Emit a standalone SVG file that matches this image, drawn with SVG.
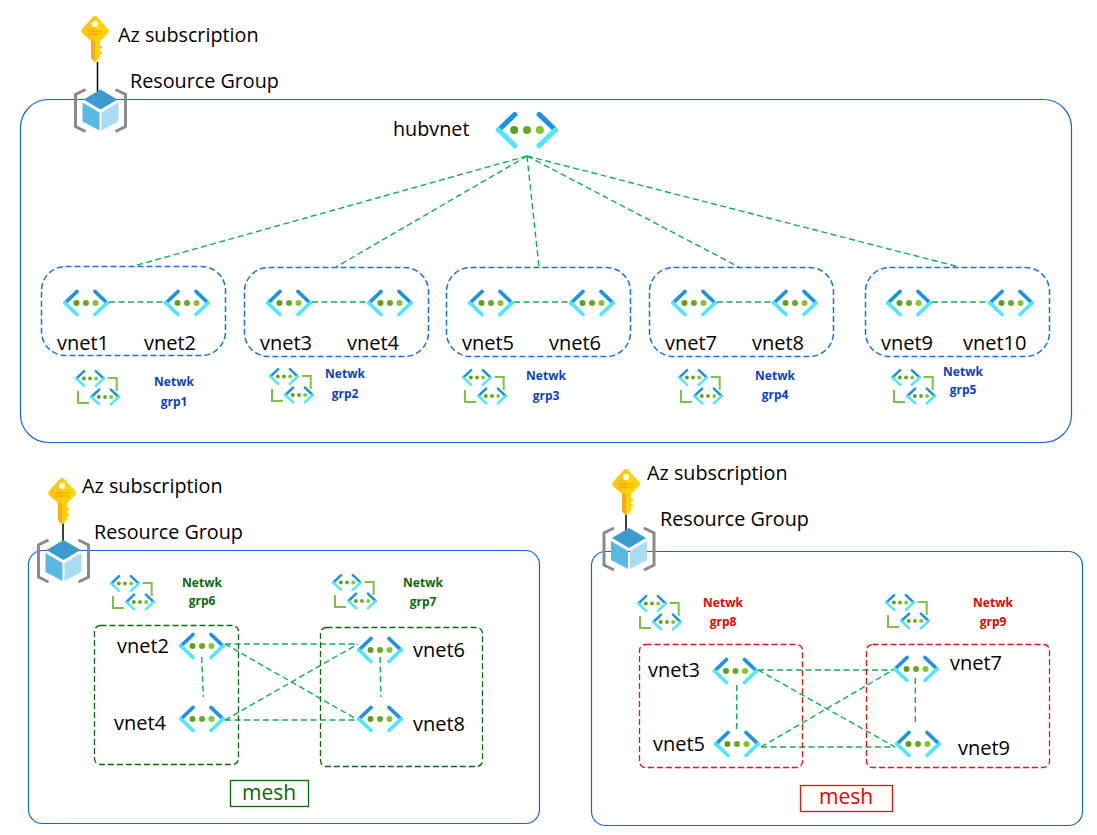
<svg xmlns="http://www.w3.org/2000/svg" width="1097" height="835" viewBox="0 0 1097 835">
<style>
text{font-family:"Open Sans","Noto Sans","Liberation Sans",sans-serif;fill:#000}
.l{font-size:19.750px}
.s{font-size:20px}
.n{font-size:12px;font-weight:700;text-anchor:middle}
.blue{fill:#0b3fc4}.green{fill:#0a6a0a}.red{fill:#f00000}
.box{fill:none;stroke:#1565d8;stroke-width:1.200}
.dblue{fill:none;stroke:#1a6ee0;stroke-width:1.500;stroke-dasharray:6 3}
.dgreen{fill:none;stroke:#0a6a0a;stroke-width:1.300;stroke-dasharray:6 3}
.dred{fill:none;stroke:#f01010;stroke-width:1.300;stroke-dasharray:6 3}
.c line{stroke:#10b050;stroke-width:1.400;stroke-dasharray:6 3.500}
.c .k{stroke:#000;stroke-width:1.500;stroke-dasharray:none}
.mesh{font-size:21px;text-anchor:middle}
</style>
<defs>
<g id="vnet">
<path d="M-9-11.500L-21 0M9-11.500L21 0" stroke="#1b93e3" stroke-width="3.800" stroke-linecap="round" fill="none"/>
<path d="M-21 0L-9 11.500M21 0L9 11.500" stroke="#50e6ff" stroke-width="3.800" stroke-linecap="round" fill="none"/>
<circle cx="-9.500" cy="0" r="3" fill="#5e9e1f"/><circle cx="0" cy="0" r="3" fill="#6aa824"/><circle cx="9.500" cy="0" r="3" fill="#86c52e"/>
</g>
<g id="vgroup">
<path d="M10.700-12H19.700V1M-19 1V13H-8" fill="none" stroke="#7cc243" stroke-width="2"/>
<g transform="translate(-7,-11.500) scale(.65)"><use href="#vnet"/></g>
<g transform="translate(8,7) scale(.65)"><use href="#vnet"/></g>
</g>
<g id="key">
<path d="M0-19Q2-19 3-17L13-6Q14.500-4 13-2L5 6V22L2 26Q0 28-2 26L-4 22V6L-13-2Q-14.500-4-13-6L-3-17Q-2-19 0-19Z" fill="#fec514"/>
<path d="M0-19Q2-19 3-17L13-6Q14.500-4 13-2L5 6V10L7 11V13L5 14V16L7 17V19L5 20V22L2 26L0 27Z" fill="#ffd400"/>
<circle cx="0" cy="-11" r="3" fill="#fff"/>
<path d="M-7-4H7M-7-1H7" stroke="#f59a0c" stroke-width="1"/>
<path d="M-4 6V23L0 27V6Z" fill="#f9a825"/>
</g>
<g id="rg">
<path d="M-15-21L-25-16V16L-15 21M15-21L25-16V16L15 21" fill="none" stroke="#8a8a8a" stroke-width="3"/>
<path d="M0-21L-17-11L0-1L17-11Z" fill="#3a9bcc"/>
<path d="M-18-8L-1 2V20L-18 11Z" fill="#59b9e2"/>
<path d="M1 2L18-8V11L1 20Z" fill="#a9dcf2"/>
</g>
</defs>

<g id="connectors" class="c">
<line x1="527" y1="156" x2="134" y2="266"/>
<line x1="527" y1="156" x2="336" y2="267"/>
<line x1="527" y1="156" x2="539" y2="267"/>
<line x1="527" y1="156" x2="739" y2="267"/>
<line x1="527" y1="156" x2="959" y2="267"/>
<line x1="109" y1="302" x2="165" y2="302"/>
<line x1="312" y1="302" x2="368" y2="302"/>
<line x1="514" y1="302" x2="570" y2="302"/>
<line x1="717" y1="302" x2="773" y2="302"/>
<line x1="932" y1="302" x2="989" y2="302"/>
<line x1="201.700" y1="657" x2="203.300" y2="697"/>
<line x1="380" y1="657" x2="381" y2="697"/>
<line x1="225" y1="644" x2="358" y2="644"/>
<line x1="225" y1="720" x2="358" y2="720"/>
<line x1="225" y1="644" x2="358" y2="720"/>
<line x1="225" y1="720" x2="358" y2="644"/>
<line x1="736.700" y1="685" x2="736.700" y2="732"/>
<line x1="915.300" y1="678" x2="915.300" y2="725"/>
<line x1="758" y1="670" x2="893" y2="670"/>
<line x1="761" y1="747" x2="895" y2="747"/>
<line x1="758" y1="670" x2="895" y2="747"/>
<line x1="761" y1="747" x2="893" y2="670"/>
<line class="k" x1="97.500" y1="62" x2="97.500" y2="92"/>
<line class="k" x1="63" y1="520" x2="63" y2="543"/>
<line class="k" x1="626" y1="512" x2="626" y2="531"/>
</g>

<g id="rg-top">
<rect class="box" x="20.500" y="99.500" width="1051" height="343" rx="28"/>
<use href="#rg" x="100.500" y="110.500"/>
<use href="#key" x="95" y="35"/>
<text class="l" x="118" y="42">Az subscription</text>
<text class="l" x="130" y="88">Resource Group</text>
</g>
<g id="rg-left">
<rect class="box" x="28.500" y="550.500" width="511" height="273" rx="14"/>
<use href="#rg" x="63.500" y="561"/>
<use href="#key" x="62" y="497"/>
<text class="l" x="82" y="493">Az subscription</text>
<text class="l" x="94" y="539">Resource Group</text>
</g>
<g id="rg-right">
<rect class="box" x="591.500" y="551.500" width="491" height="274" rx="14"/>
<use href="#rg" x="629" y="549"/>
<use href="#key" x="626" y="488"/>
<text class="l" x="647" y="480">Az subscription</text>
<text class="l" x="660" y="526">Resource Group</text>
</g>

<g id="hubvnet">
<text class="l" x="393" y="136">hubvnet</text>
<use href="#vnet" transform="translate(527,130) scale(1.350)"/>
</g>

<g id="grp1"><rect class="dblue" x="41.500" y="266.500" width="184" height="89" rx="24"/><use href="#vnet" x="86" y="303"/><use href="#vnet" x="187" y="303"/><text class="s" x="57" y="350">vnet1</text><text class="s" x="144" y="350">vnet2</text><use href="#vgroup" x="97" y="390"/><text class="n blue" x="174" y="386">Netwk</text><text class="n blue" x="174" y="406">grp1</text></g>
<g id="grp2"><rect class="dblue" x="244.500" y="267.500" width="184" height="89" rx="24"/><use href="#vnet" x="289" y="303"/><use href="#vnet" x="390" y="303"/><text class="s" x="260" y="350">vnet3</text><text class="s" x="347" y="350">vnet4</text><use href="#vgroup" x="291" y="388"/><text class="n blue" x="345" y="378">Netwk</text><text class="n blue" x="345" y="398">grp2</text></g>
<g id="grp3"><rect class="dblue" x="446.500" y="267.500" width="184" height="89" rx="24"/><use href="#vnet" x="491" y="303"/><use href="#vnet" x="592" y="303"/><text class="s" x="462" y="350">vnet5</text><text class="s" x="549" y="350">vnet6</text><use href="#vgroup" x="484" y="389"/><text class="n blue" x="546" y="380">Netwk</text><text class="n blue" x="546" y="400">grp3</text></g>
<g id="grp4"><rect class="dblue" x="649.500" y="267.500" width="184" height="89" rx="24"/><use href="#vnet" x="694" y="303"/><use href="#vnet" x="795" y="303"/><text class="s" x="665" y="350">vnet7</text><text class="s" x="752" y="350">vnet8</text><use href="#vgroup" x="700" y="389"/><text class="n blue" x="775" y="380">Netwk</text><text class="n blue" x="775" y="399">grp4</text></g>
<g id="grp5"><rect class="dblue" x="865.500" y="267.500" width="184" height="89" rx="24"/><use href="#vnet" x="909" y="303"/><use href="#vnet" x="1011" y="303"/><text class="s" x="881" y="350">vnet9</text><text class="s" x="963" y="350">vnet10</text><use href="#vgroup" x="913" y="389"/><text class="n blue" x="963" y="376">Netwk</text><text class="n blue" x="963" y="394">grp5</text></g>

<g id="grp6"><rect class="dgreen" x="94.500" y="625.500" width="144" height="139" rx="6"/><use href="#vnet" x="202" y="646"/><use href="#vnet" x="202" y="719"/><text class="s" x="117" y="653">vnet2</text><text class="s" x="114" y="730">vnet4</text><use href="#vgroup" x="132" y="595"/><text class="n green" x="202" y="587">Netwk</text><text class="n green" x="202" y="605">grp6</text></g>
<g id="grp7"><rect class="dgreen" x="320.500" y="627.500" width="162" height="139" rx="6"/><use href="#vnet" x="380" y="650"/><use href="#vnet" x="380" y="719"/><text class="s" x="413" y="657">vnet6</text><text class="s" x="413" y="731">vnet8</text><use href="#vgroup" x="354" y="594"/><text class="n green" x="423" y="587">Netwk</text><text class="n green" x="423" y="606">grp7</text></g>
<g id="grp8"><rect class="dred" x="639.500" y="644.500" width="163" height="123" rx="6"/><use href="#vnet" x="735.500" y="671"/><use href="#vnet" x="737" y="744"/><text class="s" x="648" y="677">vnet3</text><text class="s" x="653" y="751">vnet5</text><use href="#vgroup" x="659" y="615"/><text class="n red" x="723" y="607">Netwk</text><text class="n red" x="723" y="626">grp8</text></g>
<g id="grp9"><rect class="dred" x="866.500" y="644.500" width="183" height="123" rx="6"/><use href="#vnet" x="916" y="669"/><use href="#vnet" x="918" y="744"/><text class="s" x="950" y="670">vnet7</text><text class="s" x="958" y="755">vnet9</text><use href="#vgroup" x="907" y="614"/><text class="n red" x="993" y="607">Netwk</text><text class="n red" x="993" y="626">grp9</text></g>

<g id="mesh-green"><rect x="230.500" y="780.500" width="78" height="26" fill="none" stroke="#0a6a0a" stroke-width="1.300"/><text class="mesh green" x="269" y="800">mesh</text></g>
<g id="mesh-red"><rect x="800.500" y="785.500" width="92" height="26" fill="none" stroke="#f01010" stroke-width="1.300"/><text class="mesh red" x="846" y="804">mesh</text></g>
</svg>
